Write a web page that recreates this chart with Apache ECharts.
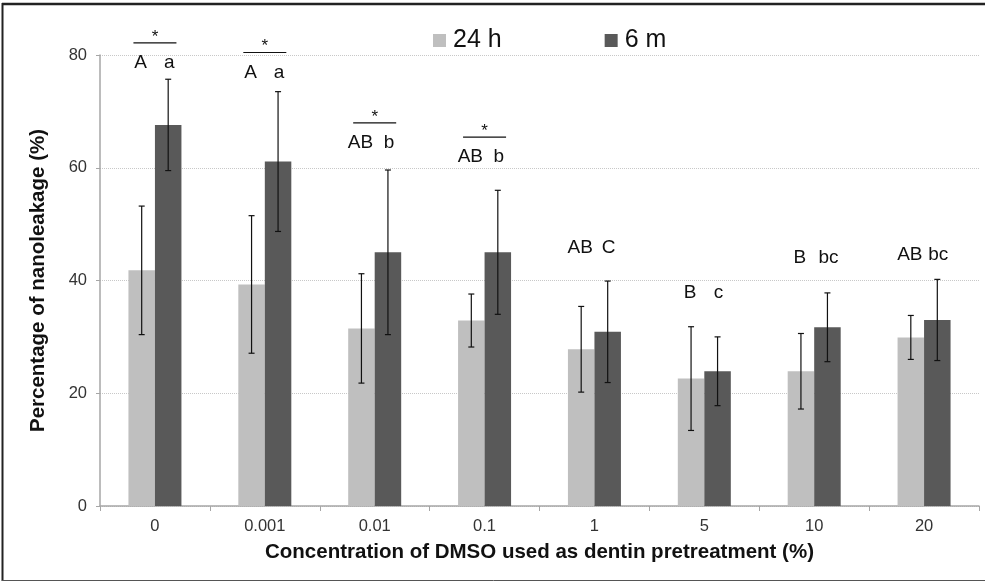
<!DOCTYPE html>
<html>
<head>
<meta charset="utf-8">
<title>Nanoleakage vs DMSO concentration</title>
<script src="https://cdn.jsdelivr.net/npm/echarts@6/dist/echarts.min.js"></script>
<style>
  html, body { margin: 0; padding: 0; background: #fff; }
  #chart { width: 985px; height: 582px; }
</style>
</head>
<body>
<div id="chart"></div>
<script>
// DMSO concentrations (%) used as dentin pretreatment
const categories = ['0', '0.001', '0.01', '0.1', '1', '5', '10', '20'];

// Mean nanoleakage (%) and standard deviations
const mean24h = [41.8, 39.3, 31.5, 32.9, 27.8, 22.6, 23.9, 29.9];
const sd24h   = [11.4, 12.2,  9.7,  4.7,  7.6,  9.2,  6.7,  3.9];
const mean6m  = [67.6, 61.1, 45.0, 45.0, 30.9, 23.9, 31.7, 33.0];
const sd6m    = [ 8.1, 12.4, 14.6, 11.0,  9.0,  6.1,  6.1,  7.2];

// Statistical grouping letters (upper case: 24 h, lower case: 6 m)
const letters24h = ['A', 'A', 'AB', 'AB', 'AB', 'B', 'B', 'AB'];
const letters6m  = ['a', 'a', 'b', 'b', 'C', 'c', 'bc', 'bc'];
// Significant difference between storage times
const significant = [true, true, true, true, false, false, false, false];

const yTicks = [0, 20, 40, 60, 80];

// Layout constants
const BAR_W = 26.5;
const CAP_W = 6;
// Height (axis units) at which the grouping letters sit above each pair
const letterLevel = [78.6, 76.9, 64.4, 61.9, 45.8, 37.8, 44.0, 44.5];

const FONT = 'Liberation Sans, Arial, sans-serif';
const LIGHT = '#bfbfbf';
const DARK = '#595959';

function errorBarSeries(means, sds, side) {
  return {
    type: 'custom',
    silent: true,
    z: 5,
    data: means.map((m, i) => [i, m - sds[i], m + sds[i]]),
    renderItem: function (params, api) {
      const lo = api.coord([api.value(0), api.value(1)]);
      const hi = api.coord([api.value(0), api.value(2)]);
      const x = lo[0] + side * BAR_W / 2;
      const st = { stroke: '#111', lineWidth: 1.2 };
      return {
        type: 'group',
        children: [
          { type: 'line', shape: { x1: x, y1: hi[1], x2: x, y2: lo[1] }, style: st },
          { type: 'line', shape: { x1: x - CAP_W / 2, y1: hi[1], x2: x + CAP_W / 2, y2: hi[1] }, style: st },
          { type: 'line', shape: { x1: x - CAP_W / 2, y1: lo[1], x2: x + CAP_W / 2, y2: lo[1] }, style: st }
        ]
      };
    }
  };
}

const annotationSeries = {
  type: 'custom',
  silent: true,
  clip: false,
  z: 6,
  data: categories.map((c, i) => [i, letterLevel[i]]),
  renderItem: function (params, api) {
    const i = api.value(0);
    const p = api.coord([i, api.value(1)]);
    const txt = { fontFamily: FONT, fontSize: 19, fill: '#111', align: 'center', verticalAlign: 'middle' };
    const children = [
      { type: 'text', x: p[0] - BAR_W / 2 - 1, y: p[1], style: Object.assign({ text: letters24h[i] }, txt) },
      { type: 'text', x: p[0] + BAR_W / 2 + 1, y: p[1], style: Object.assign({ text: letters6m[i] }, txt) }
    ];
    if (significant[i]) {
      const ly = p[1] - 20;
      children.push({ type: 'line', shape: { x1: p[0] - 21.5, y1: ly, x2: p[0] + 21.5, y2: ly }, style: { stroke: '#111', lineWidth: 1.2 } });
      children.push({ type: 'text', x: p[0], y: ly - 6, style: { text: '*', fontFamily: FONT, fontSize: 17, fill: '#111', align: 'center', verticalAlign: 'middle' } });
    }
    return { type: 'group', children: children };
  }
};

const chart = echarts.init(document.getElementById('chart'), null, { renderer: 'canvas' });

chart.setOption({
  animation: false,
  backgroundColor: '#fff',
  textStyle: { fontFamily: FONT },
  grid: { left: 100, right: 6, top: 55, bottom: 76 },
  legend: {
    top: 28,
    left: 433,
    padding: 0,
    itemWidth: 13,
    itemHeight: 13,
    itemGap: 103,
    icon: 'rect',
    textStyle: { fontFamily: FONT, fontSize: 25, color: '#111', padding: [2, 0, 0, 2] },
    data: ['24 h', '6 m']
  },
  xAxis: {
    type: 'category',
    data: categories,
    name: 'Concentration of DMSO used as dentin pretreatment (%)',
    nameLocation: 'middle',
    nameGap: 36,
    nameTextStyle: { fontFamily: FONT, fontSize: 20.5, fontWeight: 'bold', color: '#111' },
    axisLine: { lineStyle: { color: '#a6a6a6', width: 1.5 } },
    axisTick: { show: true, length: 5, lineStyle: { color: '#a6a6a6' } },
    axisLabel: { fontFamily: FONT, fontSize: 16.5, color: '#333', margin: 12 }
  },
  yAxis: {
    type: 'value',
    min: 0,
    max: 80,
    interval: 20,
    name: 'Percentage of nanoleakage (%)',
    nameLocation: 'middle',
    nameGap: 51,
    nameTextStyle: { fontFamily: FONT, fontSize: 20.5, fontWeight: 'bold', color: '#111' },
    axisLine: { show: true, lineStyle: { color: '#a6a6a6', width: 1.5 } },
    axisTick: { show: true, length: 4, lineStyle: { color: '#a6a6a6' } },
    axisLabel: {
      fontFamily: FONT, fontSize: 16.5, color: '#333', margin: 13,
      formatter: v => (yTicks.indexOf(v) >= 0 ? String(v) : '')
    },
    splitLine: { show: true, lineStyle: { color: '#c8c8c8', type: 'dotted', width: 1 } }
  },
  graphic: [
    { type: 'line', shape: { x1: 2, y1: 4, x2: 985, y2: 4 }, style: { stroke: '#222', lineWidth: 2.5 }, z: 100 },
    { type: 'line', shape: { x1: 2.5, y1: 3, x2: 2.5, y2: 581 }, style: { stroke: '#222', lineWidth: 2 }, z: 100 },
    { type: 'line', shape: { x1: 2, y1: 580.5, x2: 985, y2: 580.5 }, style: { stroke: '#555', lineWidth: 1 }, z: 100 }
  ],
  series: [
    {
      name: '24 h',
      type: 'bar',
      data: mean24h,
      barWidth: BAR_W,
      barGap: '0%',
      itemStyle: { color: LIGHT }
    },
    {
      name: '6 m',
      type: 'bar',
      data: mean6m,
      barWidth: BAR_W,
      barGap: '0%',
      itemStyle: { color: DARK }
    },
    errorBarSeries(mean24h, sd24h, -1),
    errorBarSeries(mean6m, sd6m, 1),
    annotationSeries
  ]
});
</script>
</body>
</html>
